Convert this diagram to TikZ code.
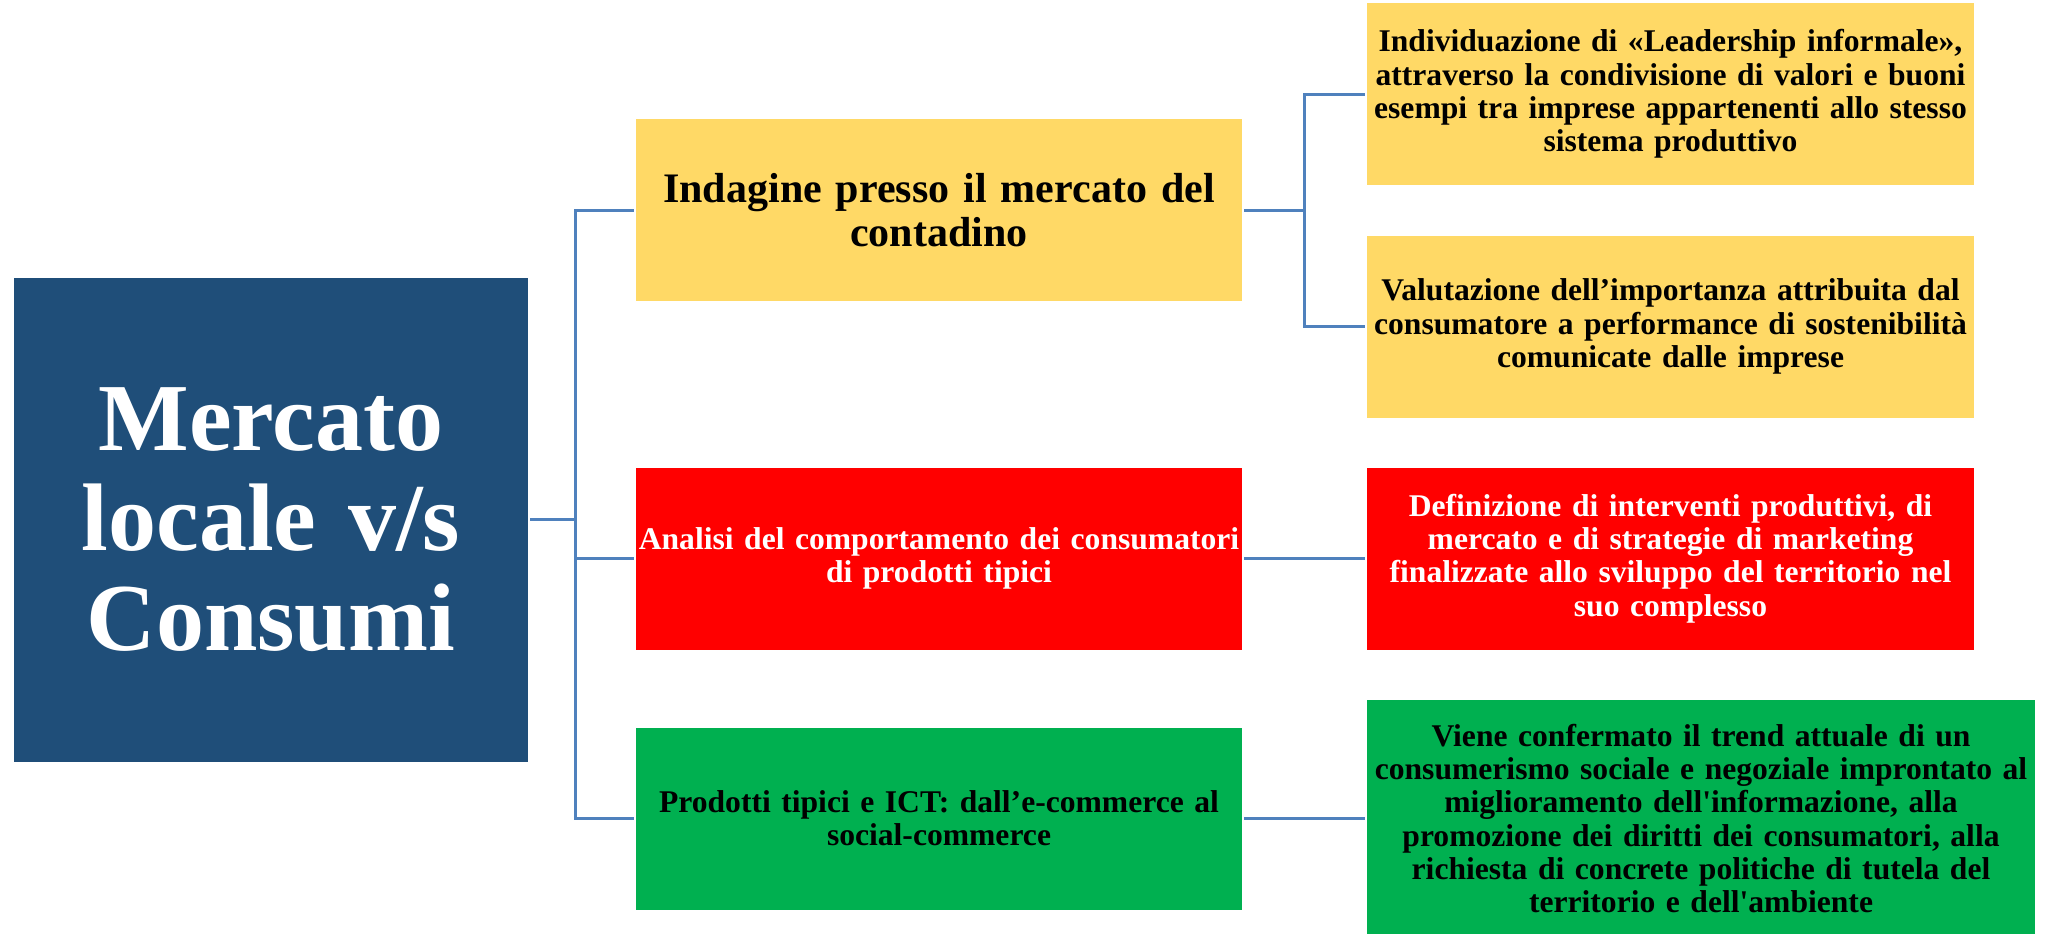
\documentclass[tikz,border=0pt]{standalone}
\usepackage{fontspec}
\setmainfont{Liberation Serif}

\definecolor{bluscuro}{HTML}{1F4E79}
\definecolor{giallo}{HTML}{FFD966}
\definecolor{rosso}{HTML}{FF0000}
\definecolor{verde}{HTML}{00B050}
\definecolor{linea}{HTML}{4F81BD}

\tikzset{
    box/.style={rectangle, inner sep=0pt, outer sep=2pt, align=center,
        execute at begin node={\hyphenpenalty=10000\exhyphenpenalty=10000},
        font=\bfseries\fontsize{31.6}{33.3}\selectfont},
    medio/.style={box, minimum width=606pt, minimum height=182pt, text width=606pt},
    destra/.style={box, minimum width=607pt, minimum height=182pt, text width=607pt},
    link/.style={draw=linea, line width=3pt},
}

\begin{document}
\begin{tikzpicture}[x=1pt, y=-1pt]

        \useasboundingbox (0,0) rectangle (2051,934);

        % riquadro principale
        \node[box, fill=bluscuro, text=white, minimum width=514pt, minimum height=484pt,
            text width=514pt, font=\bfseries\fontsize{96}{100}\selectfont] (main) at (271,519.5)
            {Mercato\\locale v/s\\Consumi};

        % colonna centrale
        \node[medio, fill=giallo, font=\bfseries\fontsize{42}{44}\selectfont] (ind) at (939,210)
            {Indagine presso il mercato del\\contadino};
        \node[medio, fill=rosso, text=white] (ana) at (939,558.5)
            {Analisi del comportamento dei consumatori\\di prodotti tipici};
        \node[medio, fill=verde] (pro) at (939,818.5)
            {Prodotti tipici e ICT: dall’e-commerce al\\social-commerce};

        % colonna destra
        \node[destra, fill=giallo] (lead) at (1670.5,94)
            {Individuazione di «Leadership informale»,\\attraverso la condivisione di valori e buoni\\esempi tra imprese appartenenti allo stesso\\sistema produttivo};
        \node[destra, fill=giallo] (val) at (1670.5,326.5)
            {Valutazione dell’importanza attribuita dal\\consumatore a performance di sostenibilità\\comunicate dalle imprese};
        \node[destra, fill=rosso, text=white] (def) at (1670.5,558.5)
            {Definizione di interventi produttivi, di\\mercato e di strategie di marketing\\finalizzate allo sviluppo del territorio nel\\suo complesso};
        \node[box, fill=verde, minimum width=668pt, minimum height=238pt, text width=668pt] (vie) at (1701,818.5)
            {Viene confermato il trend attuale di un\\consumerismo sociale e negoziale improntato al\\miglioramento dell\textquotesingle informazione, alla\\promozione dei diritti dei consumatori, alla\\richiesta di concrete politiche di tutela del\\territorio e dell\textquotesingle ambiente};

        % collegamenti
        \coordinate (jmain) at (575,0);
        \coordinate (jind) at (1304,0);
        \draw[link] (main.east) -- (main.east -| jmain) |- (ind.west);
        \draw[link] (main.east -| jmain) |- (ana.west);
        \draw[link] (main.east -| jmain) |- (pro.west);
        \draw[link] (ind.east) -- (ind.east -| jind) |- (lead.west);
        \draw[link] (ind.east -| jind) |- (val.west);
        \draw[link] (ana.east) -- (def.west);
        \draw[link] (pro.east) -- (pro.east -| vie.west);
    \end{tikzpicture}
\end{document}
